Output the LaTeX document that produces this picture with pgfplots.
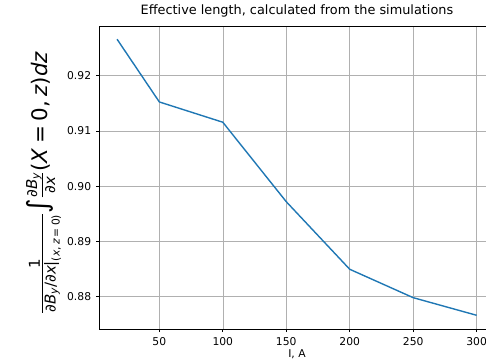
\documentclass[border=0pt]{standalone}
\usepackage{amsmath}
\usepackage{pgfplots}
\pgfplotsset{compat=1.18}
\usepackage{fontspec}
\setmainfont{DejaVu Sans}[ItalicFont={DejaVu Sans Oblique}]

\definecolor{lineblue}{HTML}{1F77B4}
\definecolor{gridgray}{HTML}{B0B0B0}

% italic variable in the label font
\newcommand{\vi}[1]{\textit{#1}}
\newcommand{\pd}{\text{∂}}
\newcommand{\tsp}{\hspace{0.2em}}

\pgfplotstableread{
I      leff
16.7   0.92659
50     0.91524
100    0.91157
150    0.89719
200    0.88496
250    0.87982
300    0.87663
}\efflength

\begin{document}
\begin{tikzpicture}
\begin{axis}[
  at={(99.3bp,31bp)}, anchor=south west,
  scale only axis, width=395.3bp, height=302.3bp,
  xmin=2.7, xmax=314.15,
  ymin=0.87415, ymax=0.92886,
  xtick={50,100,150,200,250,300},
  ytick={0.88,0.89,0.90,0.91,0.92},
  grid=major,
  major grid style={gridgray, line width=0.5pt},
  axis line style={black, line width=0.7pt},
  tick style={black, line width=0.7pt},
  tick align=outside, tick pos=left,
  major tick length=3.2bp,
  /pgf/number format/assume math mode=true,
  ticklabel style={font=\fontsize{10.8}{13}\selectfont, inner sep=0pt},
  xticklabel style={anchor=north},
  xticklabel shift=4.8bp,
  yticklabel shift=4.8bp,
  yticklabel style={anchor=east, /pgf/number format/.cd, fixed, fixed zerofill, precision=2},
  title={Effective length, calculated from the simulations},
  title style={font=\fontsize{12.9}{15}\selectfont, at={(axis description cs:0.5,1.0215)}, anchor=base, inner sep=0pt},
  xlabel={I, A},
  xlabel style={font=\fontsize{10.8}{13}\selectfont, at={(axis description cs:0.5,-0.0662)}, anchor=north, inner sep=0pt},
  ylabel={$\frac{\text{1}}{\pd\vi{B}_{\vi{y}}\text{/}\pd\vi{x}\text{|}_{\text{(\vi{x},\tsp\vi{z}\tsp=\tsp0)}}}
          \text{\fontsize{28}{28}\selectfont ∫}
          \frac{\pd\vi{B}_{\vi{y}}}{\pd\vi{x}}\text{(\vi{X}\tsp=\tsp0,\tsp\vi{z})\vi{dz}}$},
  ylabel style={font=\fontsize{21.5}{25}\selectfont, at={(axis description cs:-0.1298,0.484)}, anchor=base, rotate=0, inner sep=0pt},
]
\addplot[lineblue, line width=1.4pt] table[x=I, y=leff] {\efflength};
\end{axis}
\pgfresetboundingbox
\path[use as bounding box] (0,0) rectangle (486bp,360bp);
\end{tikzpicture}
\end{document}
